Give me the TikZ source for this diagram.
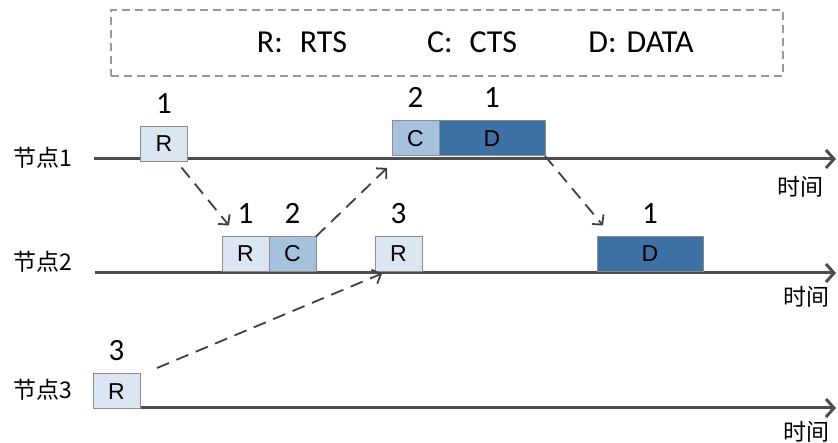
\documentclass[tikz,border=0pt]{standalone}
\usepackage{fontspec}
\setmainfont{Liberation Sans}
\newfontfamily\cjkfont{Noto Sans CJK SC}
\newfontfamily\calfont{Carlito}
\usetikzlibrary{arrows.meta,positioning}
\definecolor{rfill}{HTML}{DCE6F2}
\definecolor{cfill}{HTML}{A6C1DD}
\definecolor{dfill}{HTML}{3D71A4}
\definecolor{boxline}{HTML}{8C8C8C}
\definecolor{axisgray}{HTML}{4D4D4D}
\definecolor{flowgray}{HTML}{404040}
\definecolor{keygray}{HTML}{999999}

\begin{document}
\begin{tikzpicture}[x=1pt,y=-1pt,
    box/.style={draw=boxline,line width=1pt,minimum width=47pt,minimum height=35pt,inner sep=0pt,outer sep=0pt,font=\fontsize{23}{23}\selectfont},
    rbox/.style={box,fill=rfill},
    cbox/.style={box,fill=cfill},
    dbox/.style={box,fill=dfill,minimum width=106pt},
    num/.style={inner sep=0pt,font=\calfont\fontsize{31}{31}\selectfont},
    nodelabel/.style={inner sep=0pt,font=\cjkfont\fontsize{23}{23}\selectfont},
    timelabel/.style={inner sep=0pt,font=\cjkfont\fontsize{23}{23}\selectfont},
    key/.style={inner sep=0pt,font=\calfont\fontsize{32}{32}\selectfont},
    timeline/.style={draw=axisgray,line width=3pt,-{Straight Barb[length=8pt,width=18pt]}},
    flow/.style={draw=flowgray,line width=1.8pt,dash pattern=on 13pt off 8pt,-{Straight Barb[length=7pt,width=15pt]}}]
    \useasboundingbox[fill=white] (0,0) rectangle (838,443);
    % legend
    \node[draw=keygray,dash pattern=on 8pt off 5pt,line width=1.3pt,minimum width=672pt,minimum height=66pt] (legend) at (447,43) {};
    \node[key] (keyr) at (302,42) {R:\hspace{17pt}RTS};
    \node[key] (keyc) at (472,42) {C:\hspace{17pt}CTS};
    \node[key] (keyd) at (641,42) {D:\hspace{10pt}DATA};
    % time axes
    \coordinate (t1s) at (94,159);  \coordinate (t1e) at (836,159);
    \coordinate (t2s) at (95,273);  \coordinate (t2e) at (836,273);
    \coordinate (t3s) at (93,408);  \coordinate (t3e) at (836,408);
    \draw[timeline] (t1s) -- (t1e);
    \draw[timeline] (t2s) -- (t2e);
    \draw[timeline] (t3s) -- (t3e);
    \node[nodelabel] (n1) at (43,158) {节点1};
    \node[nodelabel] (n2) at (43,262) {节点2};
    \node[nodelabel] (n3) at (43,390) {节点3};
    \node[timelabel] (time1) at (800,187) {时间};
    \node[timelabel] (time2) at (806,297) {时间};
    \node[timelabel] (time3) at (806,432) {时间};
    % frames on node 1
    \node[rbox] (r1) at (164,144) {R};
    \node[cbox] (c1) at (415.5,138.5) {C};
    \node[dbox,right=0pt of c1] (d1) {D};
    % frames on node 2
    \node[rbox] (ra2) at (245.5,254) {R};
    \node[cbox,right=0pt of ra2] (c2) {C};
    \node[rbox] (rb2) at (398.5,254) {R};
    \node[dbox] (d2) at (650,254) {D};
    % frames on node 3
    \node[rbox] (r3) at (116.5,391.5) {R};
    % source numbers
    \node[num,above=13pt of r1] (lr1) {1};
    \node[num,above=13pt of c1] (lc1) {2};
    \node[num,above=13pt of d1] (ld1) {1};
    \node[num,above=13pt of ra2] (lra2) {1};
    \node[num,above=13pt of c2] (lc2) {2};
    \node[num,above=13pt of rb2] (lrb2) {3};
    \node[num,above=13pt of d2] (ld2) {1};
    \node[num,above=13pt of r3] (lr3) {3};
    % transmissions
    \draw[flow] ([shift={(-6,6)}]r1.south east) -- ([shift={(7,-11)}]ra2.north west);
    \draw[flow] (c2.north east) -- ([shift={(-5,12)}]c1.south west);
    \draw[flow] ([shift={(17,-6)}]r3.north east) -- ([shift={(7,2)}]rb2.south west);
    \draw[flow] (d1.south east) -- ([shift={(6,-11)}]d2.north west);
  \end{tikzpicture}
\end{document}
